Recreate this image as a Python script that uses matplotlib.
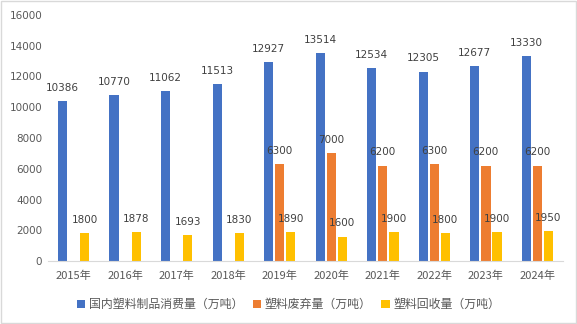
import numpy as np
import matplotlib
matplotlib.use('Agg')
import matplotlib.pyplot as plt
from matplotlib.patches import Rectangle

plt.rcParams['font.family'] = ['Noto Sans CJK SC', 'DejaVu Sans']

years = ['2015年', '2016年', '2017年', '2018年', '2019年',
         '2020年', '2021年', '2022年', '2023年', '2024年']
consumption = [10386, 10770, 11062, 11513, 12927, 13514, 12534, 12305, 12677, 13330]
waste = [None, None, None, None, 6300, 7000, 6200, 6300, 6200, 6200]
recycled = [1800, 1878, 1693, 1830, 1890, 1600, 1900, 1800, 1900, 1950]

series_names = ['国内塑料制品消费量（万吨）', '塑料废弃量（万吨）', '塑料回收量（万吨）']
colors = ['#4472C4', '#ED7D31', '#FFC000']

fig = plt.figure(figsize=(5.77, 3.24), dpi=100)
ax = fig.add_axes([0.083, 0.194, 0.893, 0.76])

x = np.arange(len(years))
width = 0.18
offsets = [-0.215, 0, 0.215]

handles = []
for vals, off, col, name in zip([consumption, waste, recycled], offsets, colors, series_names):
    xs = [xi + off for xi, v in zip(x, vals) if v is not None]
    ys = [v for v in vals if v is not None]
    b = ax.bar(xs, ys, width=width, color=col, label=name)
    handles.append(b)
    for xi, v in zip(xs, ys):
        ax.annotate(str(v), (xi, v), xytext=(0, 6), textcoords='offset points',
                    ha='center', va='bottom', fontsize=7.5, color='#404040',
                    family='DejaVu Sans')

ax.set_xlim(-0.5, 9.5)
ax.set_ylim(0, 16000)
ax.set_yticks(range(0, 16001, 2000))
ax.set_xticks(x)
ax.set_xticklabels(years, fontsize=8, color='#595959')
for lbl in ax.get_yticklabels():
    lbl.set_fontsize(7.5)
    lbl.set_color('#595959')
    lbl.set_family('DejaVu Sans')
ax.tick_params(length=0, pad=4)
ax.tick_params(axis='x', pad=7)
for s in ['top', 'right', 'left']:
    ax.spines[s].set_visible(False)
ax.spines['bottom'].set_color('#D9D9D9')

fig.legend(handles=handles, loc='center', bbox_to_anchor=(0.5, 0.06), ncol=3,
           frameon=False, fontsize=8.6, handlelength=0.7, handleheight=0.7,
           handletextpad=0.3, columnspacing=0.8, labelcolor='#595959')

fig.patches.append(Rectangle((0.002, 0.003), 0.996, 0.994, transform=fig.transFigure,
                             fill=False, edgecolor='#D9D9D9', linewidth=1))

fig.savefig('out.png', dpi=100)
